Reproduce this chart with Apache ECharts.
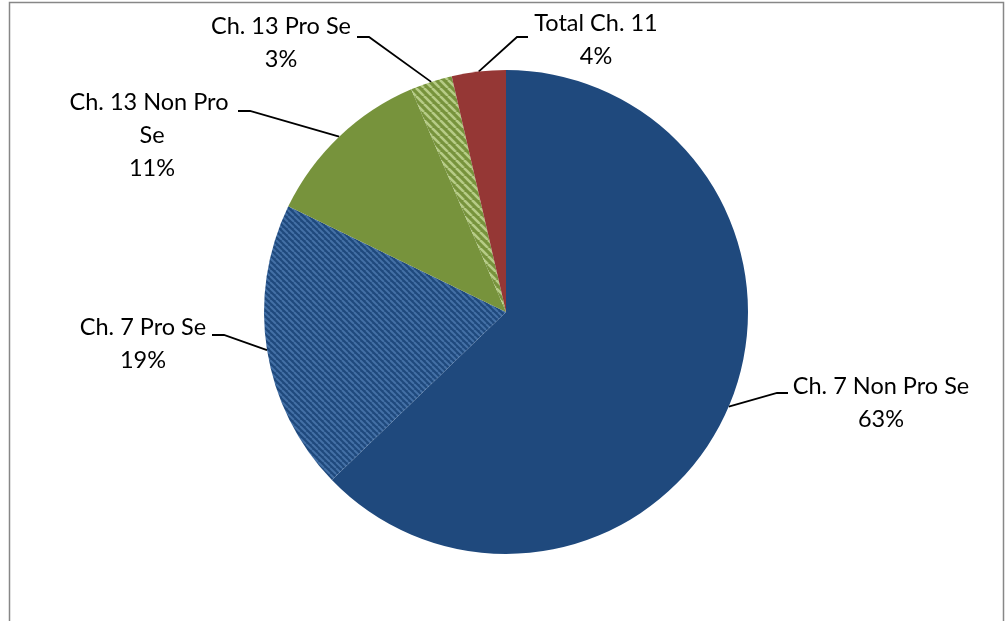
<!DOCTYPE html>
<html>
<head>
<meta charset="utf-8">
<script src="https://cdn.jsdelivr.net/npm/echarts@6/dist/echarts.min.js"></script>
<style>
html,body{margin:0;padding:0;background:#fff;}
#main{width:1008px;height:621px;}
</style>
</head>
<body>
<div id="main"></div>
<script>
// Data
var categories = ['Ch. 7 Non Pro Se', 'Ch. 7 Pro Se', 'Ch. 13 Non Pro Se', 'Ch. 13 Pro Se', 'Total Ch. 11'];
var values = [62.75, 19.4, 11.4, 2.8, 3.6];

// Label placement (layout only): text centre, elbow, end of leader line
var labelCenters = [[881, 403], [143, 344], [152, 135], [281, 43], [596, 40]];
var elbows = [[777, 393], [224, 335], [250, 111], [369, 37], [517, 37]];
var lineEnds = [[788, 393], [212, 335], [238, 111], [357, 37], [528, 37]];

function stripes(base, stripe, size, lw) {
  var c = document.createElement('canvas');
  c.width = size; c.height = size;
  var ctx = c.getContext('2d');
  ctx.fillStyle = base;
  ctx.fillRect(0, 0, size, size);
  ctx.strokeStyle = stripe;
  ctx.lineWidth = lw;
  for (var k = -1; k <= 1; k++) {
    ctx.beginPath();
    ctx.moveTo(k * size, 0);
    ctx.lineTo(k * size + size, size);
    ctx.stroke();
  }
  return c;
}

var colors = [
  '#1F497D',
  {image: stripes('#1F497D', '#4470A6', 6, 2), repeat: 'repeat'},
  '#77933C',
  {image: stripes('#77933C', '#B6CC86', 8, 2.6), repeat: 'repeat'},
  '#953735'
];

var chart = echarts.init(document.getElementById('main'));
var data = categories.map(function (n, i) {
  var item = {name: n, value: values[i], itemStyle: {color: colors[i]}};
  if (i === 2) item.label = {width: 172, overflow: 'break'};
  return item;
});

chart.setOption({
  animation: false,
  graphic: [{
    type: 'rect',
    shape: {x: 9.5, y: 2.5, width: 994, height: 700},
    style: {fill: 'none', stroke: '#878787', lineWidth: 1.5},
    silent: true
  }],
  series: [{
    type: 'pie',
    center: [506, 312],
    radius: 242,
    startAngle: 90,
    clockwise: true,
    avoidLabelOverlap: false,
    data: data,
    itemStyle: {borderWidth: 0},
    label: {
      show: true,
      position: 'outside',
      fontFamily: 'Lato',
      fontSize: 23.5,
      lineHeight: 33,
      color: '#000',
      align: 'center',
      formatter: function (p) { return p.name + '\n' + Math.round(p.percent) + '%'; }
    },
    labelLine: {show: true, length: 10, length2: 10, lineStyle: {color: '#000', width: 1.8}},
    labelLayout: function (params) {
      var i = params.dataIndex;
      var pts = params.labelLinePoints;
      var start = pts ? pts[0] : elbows[i];
      return {
        x: labelCenters[i][0],
        y: labelCenters[i][1],
        align: 'center',
        verticalAlign: 'middle',
        labelLinePoints: [start, elbows[i], lineEnds[i]]
      };
    }
  }]
});
</script>
</body>
</html>
